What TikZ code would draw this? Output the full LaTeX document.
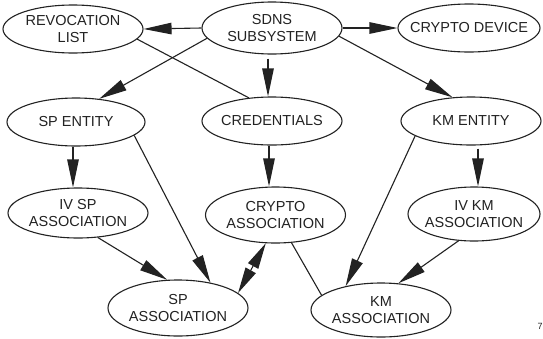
\documentclass[tikz,border=0pt]{standalone}
\usepackage{fontspec}
\setmainfont{Liberation Sans}
\usetikzlibrary{shapes.geometric,arrows.meta}
\definecolor{ink}{HTML}{222222}
\begin{document}
\begin{tikzpicture}[x=1pt,y=-1pt,
  font=\fontsize{14.5}{17}\selectfont,
  every label/.style={align=center, text=ink, inner sep=0pt},
  bubble/.style={draw=ink, ellipse, line width=1.1pt, inner sep=0pt},
  link/.style={draw=ink, line width=1.1pt},
  arr/.style={link, -{Triangle[length=28pt,width=11.5pt]}},
  darr/.style={link, {Triangle[length=26pt,width=11.5pt]}-{Triangle[length=26pt,width=11.5pt]}}]
\useasboundingbox (0,0) rectangle (543,338);
\fill[white] (0,0) rectangle (543,338);

% top row
\node[bubble, minimum width=140pt, minimum height=48pt, label=center:{REVOCATION\\LIST}] (rev) at (73,29) {};
\node[bubble, minimum width=140pt, minimum height=52pt, label=center:{SDNS\\SUBSYSTEM}] (sdns) at (272,28) {};
\node[bubble, minimum width=142pt, minimum height=48pt, label=center:{CRYPTO DEVICE}] (dev) at (469,28) {};

% entities
\node[bubble, minimum width=138pt, minimum height=48pt, label=center:{SP ENTITY}] (spe) at (76,122) {};
\node[bubble, minimum width=140pt, minimum height=48pt, label=center:{CREDENTIALS}] (cred) at (272,121) {};
\node[bubble, minimum width=140pt, minimum height=48pt, label=center:{KM ENTITY}] (kme) at (471,121) {};

% associations
\node[bubble, minimum width=140pt, minimum height=50pt, label=center:{IV SP\\ASSOCIATION}] (ivsp) at (78,213) {};
\node[bubble, minimum width=140pt, minimum height=56pt, label=center:{CRYPTO\\ASSOCIATION}] (crya) at (275.5,215) {};
\node[bubble, minimum width=132pt, minimum height=54pt, label=center:{IV KM\\ASSOCIATION}] (ivkm) at (474,214) {};
\node[bubble, minimum width=140pt, minimum height=56pt, label=center:{SP\\ASSOCIATION}] (spa) at (178,308) {};
\node[bubble, minimum width=140pt, minimum height=54pt, label=center:{KM\\ASSOCIATION}] (kma) at (381,310) {};

\node[font=\fontsize{9}{9}\selectfont, text=ink, inner sep=0pt] (pg) at (540,326) {7};

% connectors
\draw[arr] (sdns.west) -- (rev.east);
\draw[arr] (sdns.east) -- (dev.west);
\draw[arr] (sdns.189) -- (spe.45);
\draw[arr, shorten <=4pt] ([xshift=-4pt]sdns.south) -- ([xshift=-4pt]cred.north);
\draw[arr] (sdns.353) -- (kme.128);
\draw[link] (rev.351) -- (cred.135);

\draw[arr] ([xshift=-3pt]spe.south) -- ([xshift=-5pt]ivsp.north);
\draw[arr] ([xshift=-3pt]cred.south) -- ([xshift=-6.5pt]crya.north);
\draw[arr, shorten <=3pt] ([xshift=7pt]kme.south) -- ([xshift=4pt]ivkm.north);

\draw[arr] (spe.347) -- (spa.38);
\draw[arr] (ivsp.309) -- (spa.111);
\draw[darr] (crya.251) -- (spa.14);
\draw[link] (crya.300) -- (kma.166);
\draw[arr] (kme.195) -- (kma.146);
\draw[arr] (ivkm.240) -- (kma.57);
\end{tikzpicture}
\end{document}
